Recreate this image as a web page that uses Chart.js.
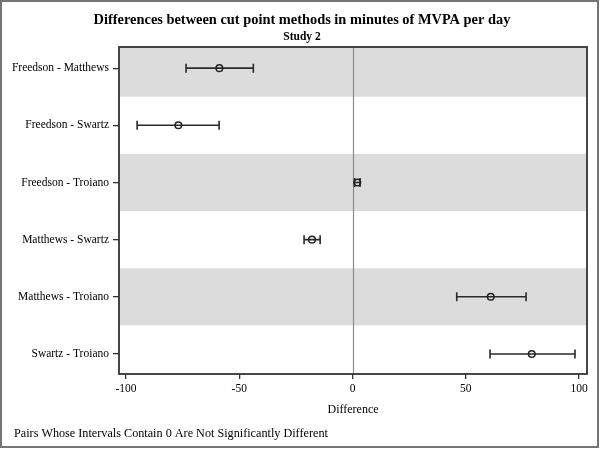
<!DOCTYPE html>
<html>
<head>
<meta charset="utf-8">
<script src="https://cdn.jsdelivr.net/npm/chart.js@4/dist/chart.umd.min.js"></script>
<style>
  html, body { margin: 0; padding: 0; background: #fff; }
  #wrap { width: 600px; height: 450px; }
</style>
</head>
<body>
<div id="wrap"><canvas id="c" width="600" height="450"></canvas></div>
<script>
// ---- data ----
const categories = ["Freedson - Matthews", "Freedson - Swartz", "Freedson - Troiano",
                    "Matthews - Swartz", "Matthews - Troiano", "Swartz - Troiano"];
const meanDiff = [-58.8, -76.9, 2.1, -17.9, 61.0, 79.1];
const lowerCI  = [-73.5, -95.1, 0.9, -21.4, 46.0, 60.7];
const upperCI  = [-43.8, -58.9, 3.3, -14.3, 76.6, 98.2];
const xTicks   = [-100, -50, 0, 50, 100];
const shadedRows = [0, 2, 4];

const titleText = "Differences between cut point methods in minutes of MVPA per day";
const subtitleText = "Study 2";
const xTitle = "Difference";
const footText = "Pairs Whose Intervals Contain 0 Are Not Significantly Different";

const SERIF = '"Liberation Serif", "Times New Roman", serif';

const decorPlugin = {
  id: 'decor',
  beforeDraw(chart) {
    const ctx = chart.ctx;
    ctx.save();
    ctx.fillStyle = '#fff';
    ctx.fillRect(0, 0, chart.width, chart.height);
    ctx.restore();
  },
  beforeDatasetsDraw(chart) {
    const ctx = chart.ctx, a = chart.chartArea;
    const xs = chart.scales.x, ys = chart.scales.y;
    ctx.save();
    ctx.beginPath();
    ctx.rect(a.left, a.top, a.right - a.left, a.bottom - a.top);
    ctx.clip();
    // bands
    ctx.fillStyle = '#dcdcdc';
    shadedRows.forEach(i => {
      const y1 = ys.getPixelForValue(i - 0.5), y2 = ys.getPixelForValue(i + 0.5);
      ctx.fillRect(a.left, Math.min(y1, y2), a.right - a.left, Math.abs(y2 - y1));
    });
    // zero reference line
    const x0 = Math.round(xs.getPixelForValue(0)) + 0.5;
    ctx.strokeStyle = '#8a8a8a';
    ctx.lineWidth = 1.2;
    ctx.beginPath();
    ctx.moveTo(x0, a.top); ctx.lineTo(x0, a.bottom);
    ctx.stroke();
    // error bars
    ctx.strokeStyle = '#2a2a2a';
    ctx.lineWidth = 1.6;
    categories.forEach((c, i) => {
      const y = ys.getPixelForValue(i);
      const xl = xs.getPixelForValue(lowerCI[i]);
      const xu = xs.getPixelForValue(upperCI[i]);
      ctx.beginPath();
      ctx.moveTo(xl, y); ctx.lineTo(xu, y);
      ctx.moveTo(xl, y - 4.5); ctx.lineTo(xl, y + 4.5);
      ctx.moveTo(xu, y - 4.5); ctx.lineTo(xu, y + 4.5);
      ctx.stroke();
    });
    ctx.restore();
  },
  afterDraw(chart) {
    const ctx = chart.ctx, a = chart.chartArea;
    ctx.save();
    // plot border
    ctx.strokeStyle = '#333';
    ctx.lineWidth = 1.8;
    ctx.strokeRect(a.left, a.top, a.right - a.left, a.bottom - a.top);
    // titles
    ctx.fillStyle = '#000';
    ctx.textAlign = 'center';
    ctx.textBaseline = 'middle';
    ctx.font = 'bold 14.4px ' + SERIF;
    ctx.fillText(titleText, 302, 20);
    ctx.font = 'bold 11.5px ' + SERIF;
    ctx.fillText(subtitleText, 302, 37);
    // footnote
    ctx.textAlign = 'left';
    ctx.font = '12.2px ' + SERIF;
    ctx.fillText(footText, 14, 434);
    // outer frame
    ctx.strokeStyle = '#666';
    ctx.lineWidth = 1.8;
    ctx.strokeRect(1, 1, 597, 446);
    ctx.restore();
  }
};

new Chart(document.getElementById('c'), {
  type: 'scatter',
  data: {
    datasets: [{
      data: meanDiff.map((v, i) => ({ x: v, y: i })),
      pointStyle: 'circle',
      pointRadius: 3.3,
      pointBorderWidth: 1.5,
      borderColor: '#222',
      backgroundColor: 'rgba(0,0,0,0)',
      pointHoverRadius: 3.3
    }]
  },
  options: {
    responsive: false,
    animation: false,
    events: [],
    layout: { padding: { top: 47, left: 0, right: 13, bottom: 0 } },
    plugins: { legend: { display: false }, tooltip: { enabled: false }, title: { display: false } },
    scales: {
      x: {
        type: 'linear',
        min: -103.1,
        max: 103.5,
        afterBuildTicks: s => { s.ticks = xTicks.map(v => ({ value: v })); },
        afterFit: s => { s.height = 76; },
        grid: { drawOnChartArea: false, tickLength: 5, color: '#333', lineWidth: 1.3 },
        border: { display: false },
        ticks: { color: '#000', padding: 3, font: { family: SERIF, size: 11.5 }, maxRotation: 0 },
        title: { display: true, text: xTitle, color: '#000', font: { family: SERIF, size: 12 }, padding: { top: 4, bottom: 33 } }
      },
      y: {
        type: 'linear',
        reverse: true,
        min: -0.37,
        max: 5.35,
        afterBuildTicks: s => { s.ticks = categories.map((c, i) => ({ value: i })); },
        afterFit: s => { s.width = 119; },
        grid: { drawOnChartArea: false, tickLength: 6, color: '#333', lineWidth: 1.3 },
        border: { display: false },
        ticks: { color: '#000', padding: 4, font: { family: SERIF, size: 11.5 },
                 callback: v => categories[Math.round(v)] }
      }
    }
  },
  plugins: [decorPlugin]
});
</script>
</body>
</html>
